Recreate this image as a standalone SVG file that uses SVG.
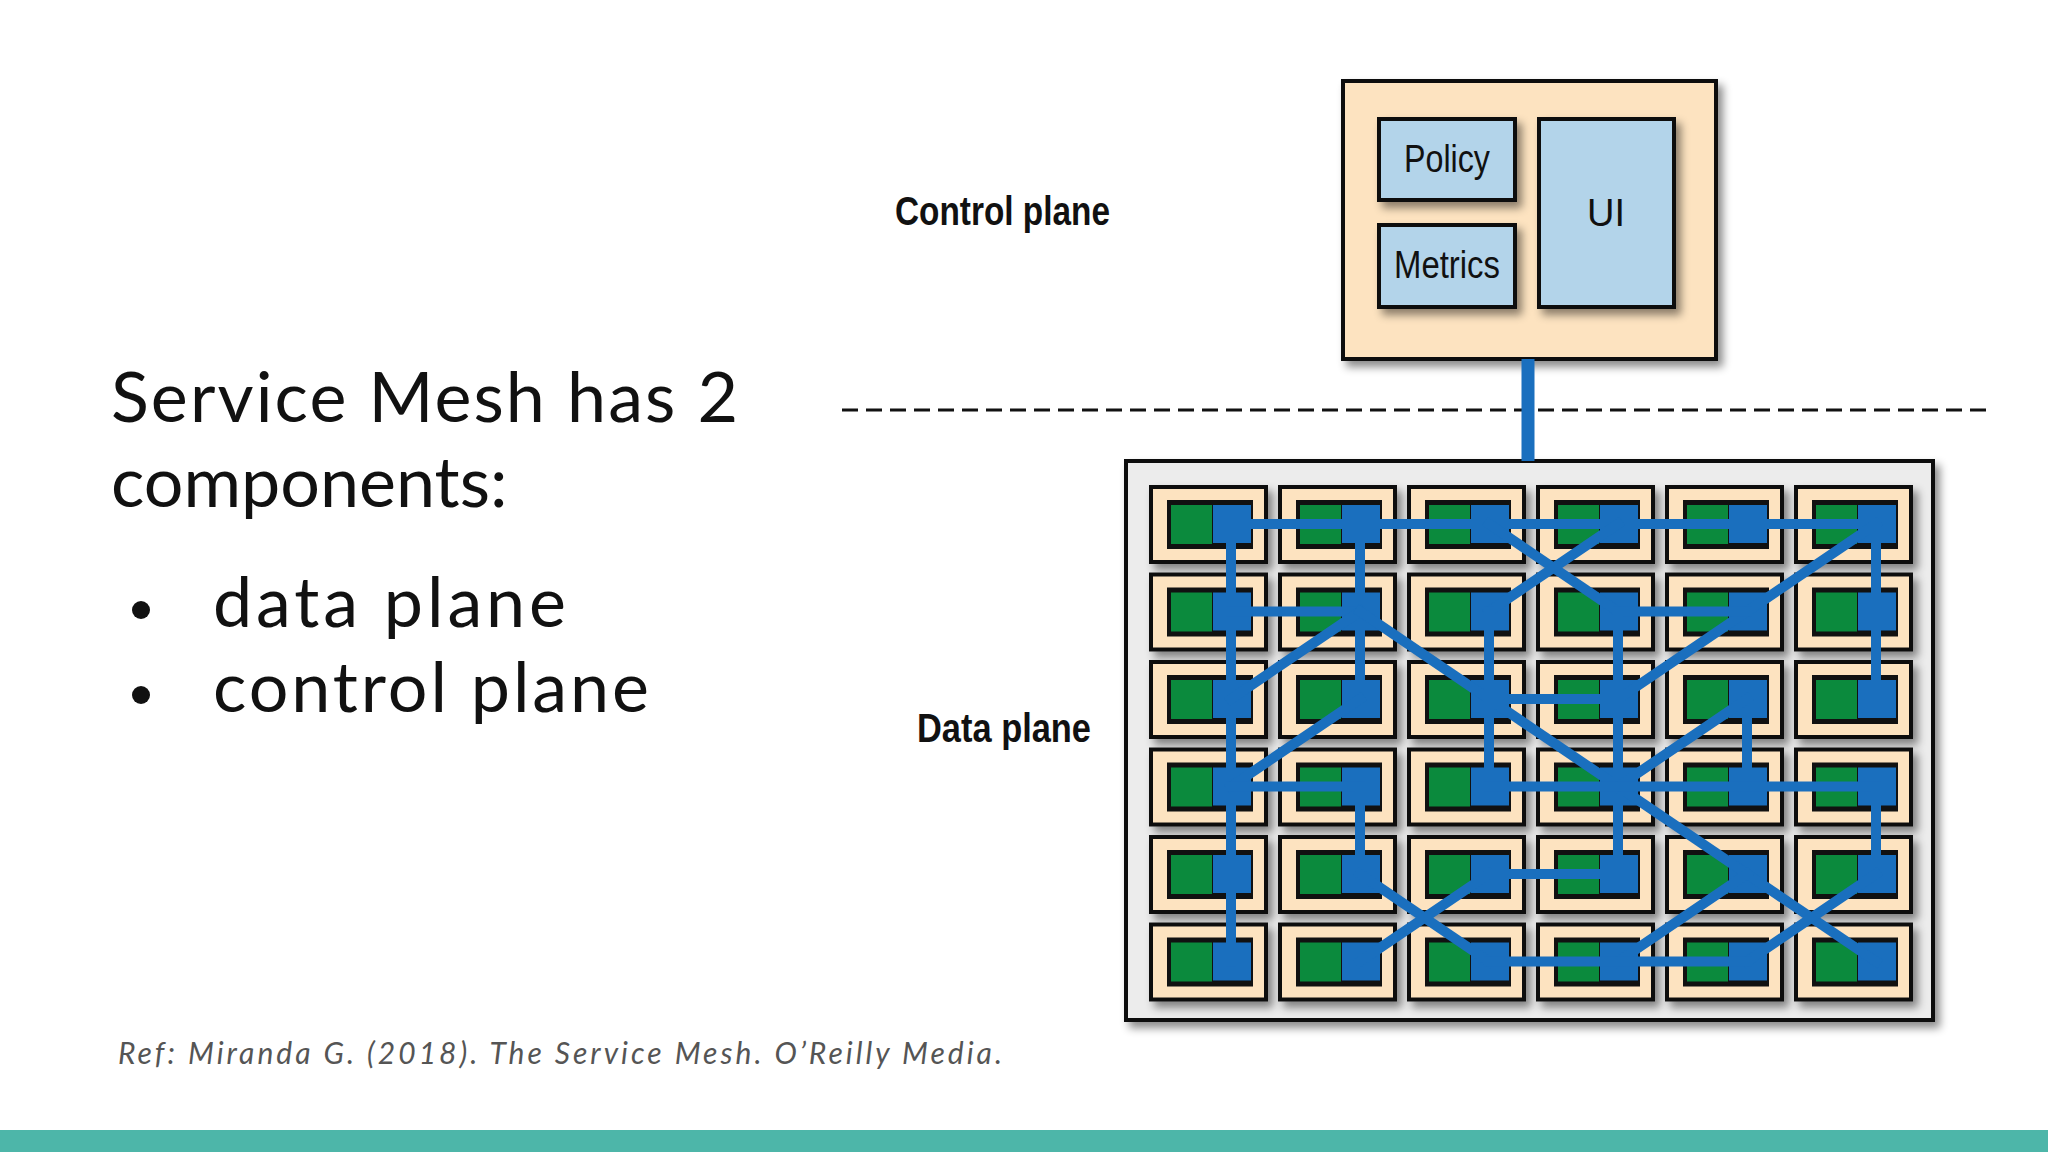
<svg xmlns="http://www.w3.org/2000/svg" xmlns:xlink="http://www.w3.org/1999/xlink" width="2048" height="1152" viewBox="0 0 2048 1152">
<defs>
<style>
.lt{font-family:"Lato","Noto Sans",sans-serif;fill:#111}
.lbl{font-family:"Liberation Sans",sans-serif;font-weight:bold;fill:#111}
.box{fill:#b3d4ea;stroke:#111;stroke-width:4}
.mesh line{stroke:#1a6fbe;stroke-width:10;stroke-linecap:square}
</style>
<filter id="sh" x="-20%" y="-20%" width="150%" height="150%"><feDropShadow dx="5" dy="6" stdDeviation="4" flood-color="#000" flood-opacity="0.45"/></filter>
<g id="cell">
<rect x="0" y="0" width="115" height="75" fill="#fde3c0" stroke="#111" stroke-width="4" filter="url(#sh)"/>
<rect x="16" y="13" width="86" height="49" fill="#111"/>
<rect x="20" y="18" width="41" height="39" fill="#0b8a3d"/>
<rect x="62" y="18" width="38" height="38" fill="#1a6fbe"/>
</g>
</defs>
<rect width="2048" height="1152" fill="#fff"/>
<rect x="0" y="1130" width="2048" height="22" fill="#4db6a9"/>
<text class="lt" x="111" y="422" font-size="70" textLength="627">Service Mesh has 2</text>
<text class="lt" x="111" y="507" font-size="70">components:</text>
<circle cx="141" cy="610" r="9" fill="#111"/>
<circle cx="141" cy="695" r="9" fill="#111"/>
<text class="lt" x="213" y="627" font-size="70" textLength="353">data plane</text>
<text class="lt" x="213" y="712" font-size="70" textLength="436">control plane</text>
<text x="118" y="1064" font-size="30" font-style="italic" font-family="Lato, sans-serif" fill="#555" textLength="884">Ref: Miranda G. (2018). The Service Mesh. O’Reilly Media.</text>
<text class="lbl" x="895" y="225" font-size="40" textLength="215" lengthAdjust="spacingAndGlyphs">Control plane</text>
<text class="lbl" x="917" y="742" font-size="40" textLength="174" lengthAdjust="spacingAndGlyphs">Data plane</text>
<line x1="842" y1="410" x2="1992" y2="410" stroke="#111" stroke-width="3" stroke-dasharray="16 8"/>
<g id="control-plane">
<rect x="1343" y="81" width="373" height="278" fill="#fde3c0" stroke="#111" stroke-width="4" filter="url(#sh)"/>
</g>
<g id="policy"><rect class="box" x="1379" y="119" width="136" height="81" filter="url(#sh)"/><text class="lbl" x="1447" y="172" font-size="38" font-weight="normal" text-anchor="middle" textLength="86" lengthAdjust="spacingAndGlyphs" style="font-weight:normal">Policy</text></g>
<g id="metrics"><rect class="box" x="1379" y="225" width="136" height="82" filter="url(#sh)"/><text class="lbl" x="1447" y="278" font-size="38" text-anchor="middle" textLength="106" lengthAdjust="spacingAndGlyphs" style="font-weight:normal">Metrics</text></g>
<g id="ui"><rect class="box" x="1539" y="119" width="135" height="188" filter="url(#sh)"/><text class="lbl" x="1606" y="226" font-size="38" text-anchor="middle" style="font-weight:normal">UI</text></g>
<g id="data-plane">
<rect x="1126" y="461" width="807" height="559" fill="#ececec" stroke="#111" stroke-width="4" filter="url(#sh)"/>
</g>
<g id="pods">
<g id="n00"><use href="#cell" x="1151" y="487"/></g><g id="n01"><use href="#cell" x="1280" y="487"/></g><g id="n02"><use href="#cell" x="1409" y="487"/></g><g id="n03"><use href="#cell" x="1538" y="487"/></g><g id="n04"><use href="#cell" x="1667" y="487"/></g><g id="n05"><use href="#cell" x="1796" y="487"/></g>
<g id="n10"><use href="#cell" x="1151" y="574.5"/></g><g id="n11"><use href="#cell" x="1280" y="574.5"/></g><g id="n12"><use href="#cell" x="1409" y="574.5"/></g><g id="n13"><use href="#cell" x="1538" y="574.5"/></g><g id="n14"><use href="#cell" x="1667" y="574.5"/></g><g id="n15"><use href="#cell" x="1796" y="574.5"/></g>
<g id="n20"><use href="#cell" x="1151" y="662"/></g><g id="n21"><use href="#cell" x="1280" y="662"/></g><g id="n22"><use href="#cell" x="1409" y="662"/></g><g id="n23"><use href="#cell" x="1538" y="662"/></g><g id="n24"><use href="#cell" x="1667" y="662"/></g><g id="n25"><use href="#cell" x="1796" y="662"/></g>
<g id="n30"><use href="#cell" x="1151" y="749.5"/></g><g id="n31"><use href="#cell" x="1280" y="749.5"/></g><g id="n32"><use href="#cell" x="1409" y="749.5"/></g><g id="n33"><use href="#cell" x="1538" y="749.5"/></g><g id="n34"><use href="#cell" x="1667" y="749.5"/></g><g id="n35"><use href="#cell" x="1796" y="749.5"/></g>
<g id="n40"><use href="#cell" x="1151" y="837"/></g><g id="n41"><use href="#cell" x="1280" y="837"/></g><g id="n42"><use href="#cell" x="1409" y="837"/></g><g id="n43"><use href="#cell" x="1538" y="837"/></g><g id="n44"><use href="#cell" x="1667" y="837"/></g><g id="n45"><use href="#cell" x="1796" y="837"/></g>
<g id="n50"><use href="#cell" x="1151" y="924.5"/></g><g id="n51"><use href="#cell" x="1280" y="924.5"/></g><g id="n52"><use href="#cell" x="1409" y="924.5"/></g><g id="n53"><use href="#cell" x="1538" y="924.5"/></g><g id="n54"><use href="#cell" x="1667" y="924.5"/></g><g id="n55"><use href="#cell" x="1796" y="924.5"/></g>
</g>
<g id="connectors" class="mesh">
<line x1="1528" y1="359" x2="1528" y2="461" style="stroke-width:13;stroke-linecap:butt"/>
<line x1="1231" y1="524" x2="1876" y2="524"/>
<line x1="1231" y1="524" x2="1231" y2="961.5"/>
<line x1="1360" y1="524" x2="1360" y2="699"/>
<line x1="1489" y1="524" x2="1618" y2="611.5"/>
<line x1="1618" y1="524" x2="1489" y2="611.5"/>
<line x1="1876" y1="524" x2="1618" y2="699"/>
<line x1="1876" y1="524" x2="1876" y2="699"/>
<line x1="1231" y1="611.5" x2="1360" y2="611.5"/>
<line x1="1618" y1="611.5" x2="1747" y2="611.5"/>
<line x1="1360" y1="611.5" x2="1231" y2="699"/>
<line x1="1360" y1="611.5" x2="1876" y2="961.5"/>
<line x1="1489" y1="611.5" x2="1489" y2="786.5"/>
<line x1="1618" y1="611.5" x2="1618" y2="874"/>
<line x1="1747" y1="699" x2="1747" y2="786.5"/>
<line x1="1489" y1="699" x2="1618" y2="699"/>
<line x1="1360" y1="699" x2="1231" y2="786.5"/>
<line x1="1747" y1="699" x2="1618" y2="786.5"/>
<line x1="1231" y1="786.5" x2="1360" y2="786.5"/>
<line x1="1489" y1="786.5" x2="1876" y2="786.5"/>
<line x1="1360" y1="786.5" x2="1360" y2="874"/>
<line x1="1876" y1="786.5" x2="1876" y2="874"/>
<line x1="1360" y1="874" x2="1489" y2="961.5"/>
<line x1="1360" y1="961.5" x2="1489" y2="874"/>
<line x1="1489" y1="874" x2="1618" y2="874"/>
<line x1="1747" y1="874" x2="1618" y2="961.5"/>
<line x1="1876" y1="874" x2="1747" y2="961.5"/>
<line x1="1489" y1="961.5" x2="1747" y2="961.5"/>
</g>
</svg>
